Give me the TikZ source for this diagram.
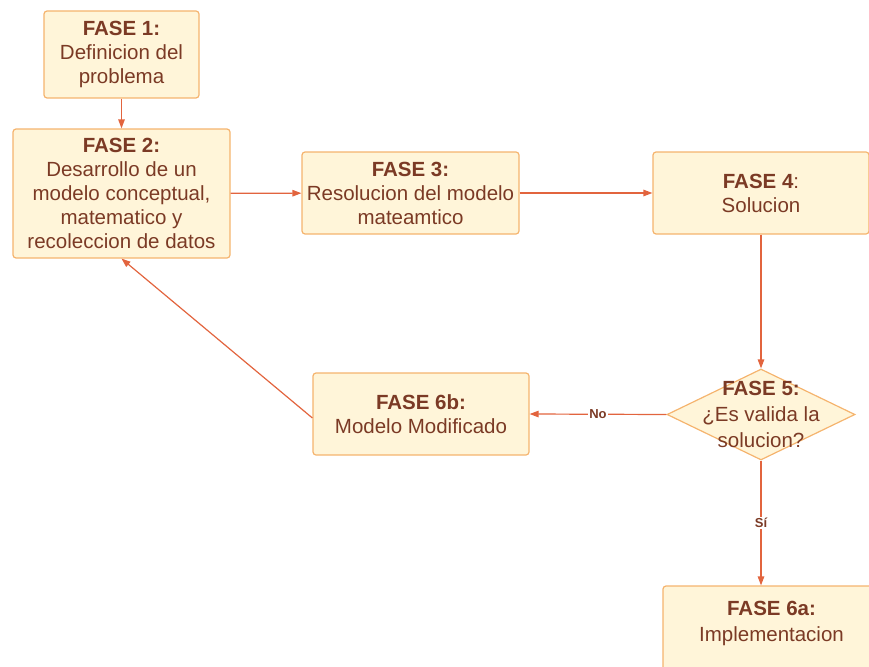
\documentclass[tikz,border=0pt]{standalone}
\usepackage{fontspec}
\setmainfont{Liberation Sans}
\usetikzlibrary{shapes.geometric,arrows.meta}
\definecolor{boxfill}{HTML}{FFF5D9}
\definecolor{boxline}{HTML}{F5B46E}
\definecolor{txt}{HTML}{7B3A25}
\definecolor{arr}{HTML}{E2643E}
\begin{document}
\begin{tikzpicture}[x=1pt,y=-1pt,
  box/.style={draw=boxline, fill=boxfill, line width=1.2pt, rounded corners=3pt, align=center, text=txt, font=\fontsize{20.5}{24}\selectfont, inner sep=0pt},
  dia/.style={draw=boxline, fill=boxfill, line width=1.2pt, diamond, inner sep=0pt},
  dtext/.style={align=center, text=txt, font=\fontsize{20.5}{26}\selectfont, inner sep=0pt},
  conn/.style={draw=arr, line width=1.2pt, -{Triangle[length=9pt,width=6.5pt]}},
  elab/.style={fill=white, text=txt, font=\bfseries\fontsize{13}{14}\selectfont, inner sep=1pt}]
\useasboundingbox (0,0) rectangle (869,666);
\node[box, minimum width=155pt, minimum height=87pt] (b1) at (121.5,54.5) {\textbf{FASE 1:}\\Definicion del\\problema};
\node[box, minimum width=217pt, minimum height=129pt] (b2) at (121.5,193.5) {\textbf{FASE 2:}\\Desarrollo de un\\modelo conceptual,\\matematico y\\recoleccion de datos};
\node[box, minimum width=217pt, minimum height=82pt] (b3) at (410.5,193) {\textbf{FASE 3:}\\Resolucion del modelo\\mateamtico};
\node[box, minimum width=216pt, minimum height=82pt] (b4) at (761,193) {\textbf{FASE 4}:\\Solucion};
\node[dia, minimum width=188pt, minimum height=91pt] (d5) at (761,414.5) {};
\node[dtext] (t5) at (d5.center) {\textbf{FASE 5:}\\¿Es valida la\\solucion?};
\node[box, minimum width=216pt, minimum height=82pt] (b6b) at (421,414) {\textbf{FASE 6b:}\\Modelo Modificado};
\node[box, minimum width=217pt, minimum height=100pt] (b6a) at (771.5,636) {};
\node[dtext] (t6a) at (771.5,623) {\textbf{FASE 6a:}\\Implementacion};
\draw[conn] (b1) -- (b2);
\draw[conn] (b2) -- (b3);
\draw[conn] (b3) -- (b4);
\draw[conn] (b4.south -| d5.north) -- (d5.north);
\draw[conn] (d5.west) -- node[elab] {No} (b6b.east);
\draw[conn] (d5.south) -- node[elab] {Sí} (b6a.north -| d5.south);
\draw[conn] ([yshift=-4pt]b6b.west) -- (b2.south);
\end{tikzpicture}
\end{document}
